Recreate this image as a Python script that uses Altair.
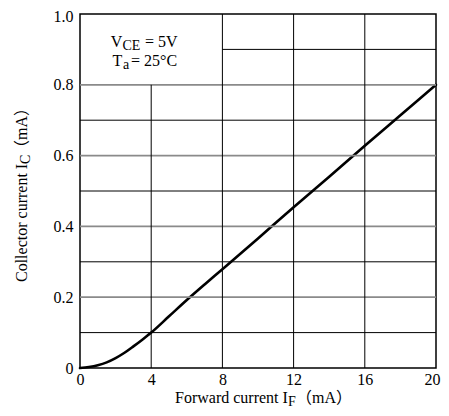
import altair as alt
import pandas as pd

# Curve values
if_ma = [0, 0.5, 1, 1.5, 2, 2.5, 3, 3.5, 4, 5, 6, 7, 8, 10, 12, 14, 16, 18, 20]
ic_ma = [0, 0.003, 0.008, 0.016, 0.028, 0.043, 0.061, 0.080, 0.100, 0.146,
         0.192, 0.236, 0.279, 0.366, 0.454, 0.540, 0.628, 0.714, 0.800]

x_ticks = [0, 4, 8, 12, 16, 20]
y_ticks = [0, 0.2, 0.4, 0.6, 0.8, 1.0]

v_grid_x = [4, 8, 12, 16]
v_grid_top = [0.8, 1.0, 1.0, 1.0]
h_minor_y = [0.1, 0.3, 0.5, 0.7, 0.9]
h_minor_x0 = [0, 0, 0, 0, 8]
h_major_y = [0.2, 0.4, 0.6, 0.8]

FONT = "Liberation Serif"
CJK = "Noto Sans CJK JP"

xs = alt.Scale(domain=[0, 20], nice=False, zero=False)
ys = alt.Scale(domain=[0, 1], nice=False, zero=False)

X_AXIS = alt.Axis(values=x_ticks, ticks=False, domain=False, grid=False, title=None,
                  labelFont=FONT, labelFontSize=16, labelColor="black", labelPadding=3,
                  labelFlush=True, labelFlushOffset=4)
Y_AXIS = alt.Axis(values=y_ticks, ticks=False, domain=False, grid=False, title=None,
                  labelFont=FONT, labelFontSize=16, labelColor="black", labelPadding=7,
                  labelFlush=False,
                  labelOffset=alt.ExprRef("datum.value == 1 ? 2 : 0"),
                  labelExpr="datum.value == 0 ? '0' : format(datum.value, '.1f')")

curve_df = pd.DataFrame({"x": if_ma, "y": ic_ma})
vgrid_df = pd.DataFrame({"x": v_grid_x, "y0": [0] * len(v_grid_x), "y1": v_grid_top})
hminor_df = pd.DataFrame({"y": h_minor_y, "x0": h_minor_x0, "x1": [20] * len(h_minor_y)})
hmajor_df = pd.DataFrame({"y": h_major_y, "x0": [0] * len(h_major_y), "x1": [20] * len(h_major_y)})

line = alt.Chart(curve_df).mark_line(
    color="black", strokeWidth=2.6, interpolate="monotone", strokeCap="round"
).encode(
    x=alt.X("x:Q", scale=xs, axis=X_AXIS),
    y=alt.Y("y:Q", scale=ys, axis=Y_AXIS),
)
vgrid = alt.Chart(vgrid_df).mark_rule(color="black", strokeWidth=1).encode(
    x=alt.X("x:Q", scale=xs, axis=X_AXIS),
    y=alt.Y("y0:Q", scale=ys, axis=Y_AXIS),
    y2="y1:Q",
)
hminor = alt.Chart(hminor_df).mark_rule(color="black", strokeWidth=1).encode(
    y=alt.Y("y:Q", scale=ys, axis=Y_AXIS),
    x=alt.X("x0:Q", scale=xs, axis=X_AXIS),
    x2="x1:Q",
)
hmajor = alt.Chart(hmajor_df).mark_rule(color="#8a8a8a", strokeWidth=1.8).encode(
    y=alt.Y("y:Q", scale=ys, axis=Y_AXIS),
    x=alt.X("x0:Q", scale=xs, axis=X_AXIS),
    x2="x1:Q",
)


def txt(s, x, y, size=16, angle=None, font=FONT):
    kw = dict(align="left", baseline="alphabetic", font=font, fontSize=size, color="black")
    if angle is not None:
        kw["angle"] = angle
    return alt.Chart(pd.DataFrame({"t": [s]})).mark_text(**kw).encode(
        text="t:N", x=alt.value(x), y=alt.value(y)
    )


# plot area origin is at page (80, 14)
labels = [
    # annotation box
    txt("V", 30.7, 33),
    txt("CE", 42.5, 35.5, 14),
    txt("= 5V", 65, 33),
    txt("T", 32.5, 52),
    txt("a", 43, 54.5, 14),
    txt("= 25°C", 51, 52),
    # x title
    txt("Forward current I", 95, 389),
    txt("F", 208, 392, 14),
    txt("（", 216, 389, 16, None, CJK),
    txt("mA", 232, 389),
    txt("）", 256, 389, 16, None, CJK),
    # y title (rotated)
    txt("Collector current I", -53.5, 268, 16, 270),
    txt("C", -50.5, 150, 14, 270),
    txt("（", -53.5, 142, 16, 270, CJK),
    txt("mA", -53.5, 126, 16, 270),
    txt("）", -53.5, 102, 16, 270, CJK),
]

chart = alt.layer(line, hminor, hmajor, vgrid, *labels).properties(
    width=356,
    height=354,
    autosize=alt.AutoSizeParams(type="none"),
    padding={"left": 72, "top": 6, "right": 5, "bottom": 40},
).configure_view(stroke="black", strokeWidth=1.5)

chart.save("out.html", embed_options={"renderer": "svg", "actions": False})
